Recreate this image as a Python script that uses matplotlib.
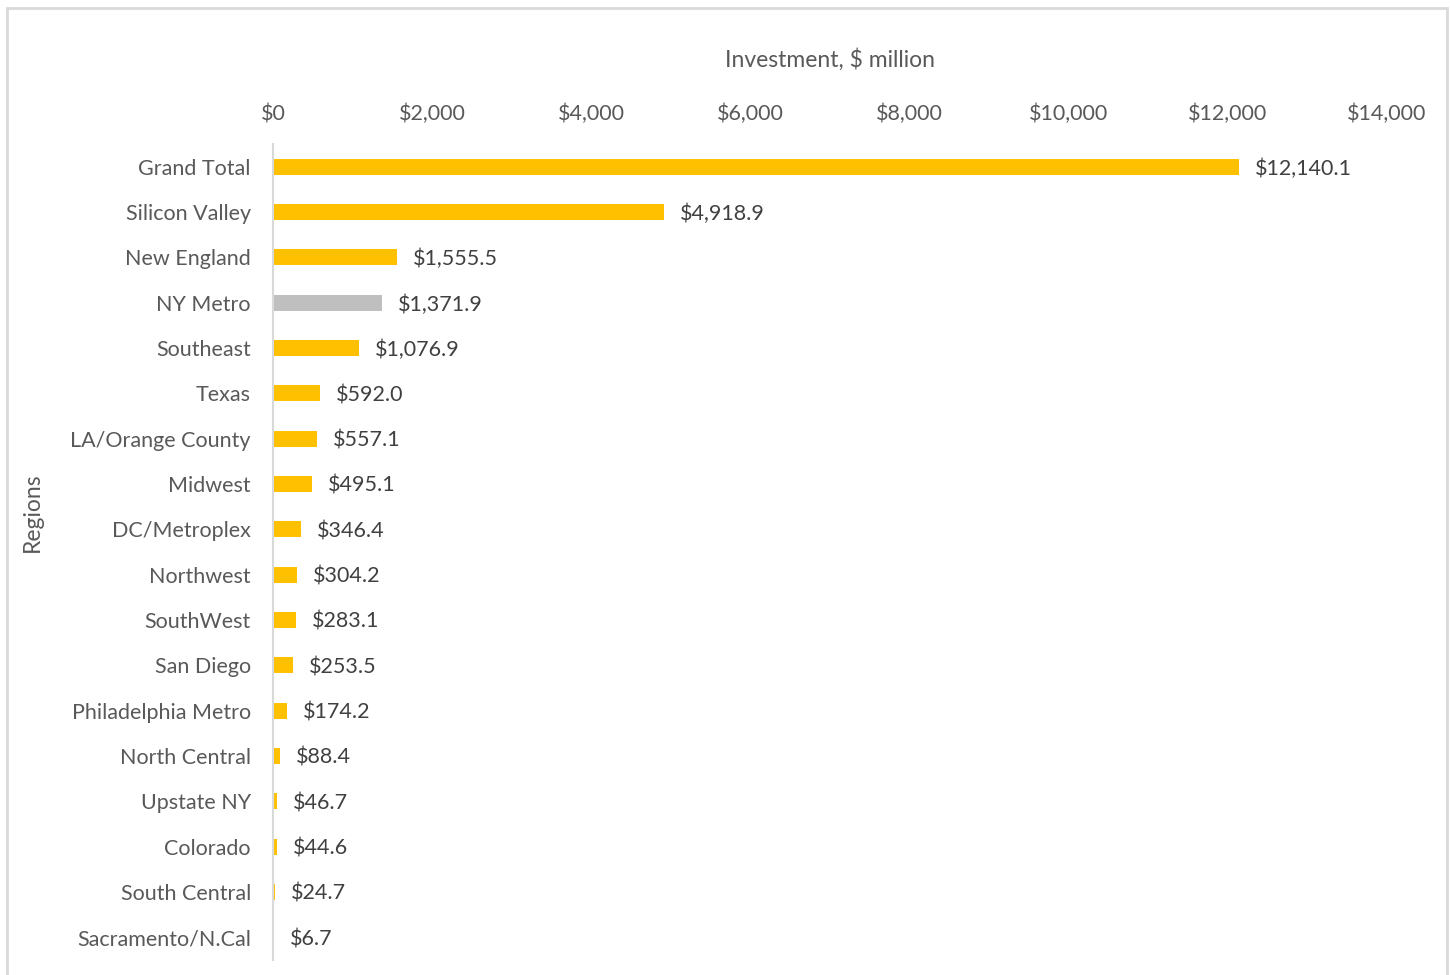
import matplotlib.pyplot as plt
from matplotlib.patches import Rectangle

regions = ['Grand Total', 'Silicon Valley', 'New England', 'NY Metro', 'Southeast',
           'Texas', 'LA/Orange County', 'Midwest', 'DC/Metroplex', 'Northwest',
           'SouthWest', 'San Diego', 'Philadelphia Metro', 'North Central',
           'Upstate NY', 'Colorado', 'South Central', 'Sacramento/N.Cal']
investment = [12140.1, 4918.9, 1555.5, 1371.9, 1076.9, 592.0, 557.1, 495.1, 346.4,
              304.2, 283.1, 253.5, 174.2, 88.4, 46.7, 44.6, 24.7, 6.7]
highlight = 'NY Metro'

x_ticks = [0, 2000, 4000, 6000, 8000, 10000, 12000, 14000]

plt.rcParams['font.family'] = ['Lato', 'DejaVu Sans']

fig = plt.figure(figsize=(14.5, 9.75), dpi=100)
ax = fig.add_axes([273 / 1450, 15 / 975, 1114 / 1450, 816 / 975])

colors = ['#BFBFBF' if r == highlight else '#FFC000' for r in regions]
pos = list(range(len(regions)))
ax.barh(pos, investment, height=0.36, color=colors)

for y, v in zip(pos, investment):
    ax.annotate(f'${v:,.1f}', (v, y), xytext=(11.5, 0), textcoords='offset points',
                va='center_baseline', ha='left', fontsize=15.5, color='#404040')

ax.set_ylim(len(regions) - 0.5, -0.5)
ax.set_xlim(0, 14000)
ax.set_yticks(pos)
ax.set_yticklabels(regions)
ax.set_xticks(x_ticks)
ax.set_xticklabels([f'${t:,}' for t in x_ticks])
ax.xaxis.tick_top()
ax.xaxis.set_label_position('top')
ax.tick_params(axis='both', length=0, labelsize=15.5, colors='#595959')
ax.tick_params(axis='x', pad=14)
ax.tick_params(axis='y', pad=16)

for side in ['top', 'right', 'bottom']:
    ax.spines[side].set_visible(False)
ax.spines['left'].set_color('#D9D9D9')
ax.spines['left'].set_linewidth(1.5)

ax.set_xlabel('Investment, $ million', fontsize=16.5, color='#595959', labelpad=27)
fig.text(32 / 1450, 1 - 512 / 975, 'Regions', rotation=90, ha='center', va='center',
         fontsize=16.5, color='#595959')

# light frame around the whole chart area
fig.patches.append(Rectangle((7 / 1450, -0.01), 1440 / 1450, 1 - 8 / 975 + 0.01,
                             transform=fig.transFigure, fill=False,
                             edgecolor='#D9D9D9', linewidth=2))

fig.savefig('out.png', dpi=100)
